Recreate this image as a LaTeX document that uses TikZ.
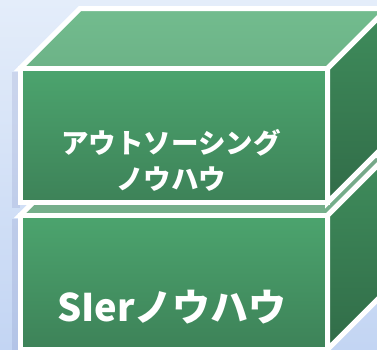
\documentclass[tikz,border=0pt]{standalone}
\usepackage{fontspec}
\newfontfamily\jp{Noto Sans CJK JP}
\definecolor{topface}{HTML}{72BC8E}
\definecolor{fronttop}{HTML}{4CA46E}
\definecolor{frontbot}{HTML}{3D8258}
\definecolor{sidetop}{HTML}{3F8D5C}
\definecolor{sidebot}{HTML}{316C48}
\definecolor{bgtop}{HTML}{E4EDFA}
\definecolor{bgbot}{HTML}{C3D5F3}
\tikzset{
  edge/.style={draw=white, line width=5pt, line join=miter},
  txt/.style={text=white, font=\jp, align=center, inner sep=0pt},
}
\begin{document}
\begin{tikzpicture}[x=1pt,y=-1pt]
\useasboundingbox (0,0) rectangle (377,349);
\shade[top color=bgtop, bottom color=bgbot] (0,0) rectangle (377,349);
% soft shadows at left
\fill[black!60!blue, opacity=0.08] (12,72) rectangle (20,208);
\fill[black!60!blue, opacity=0.08] (12,219) rectangle (20,352);
% bottom box
\path[edge, top color=topface!65!gray, bottom color=topface!80!gray] (20,215.5) -- (80,155.5) -- (387.5,155.5) -- (327.5,215.5) -- cycle;
\path[edge, top color=sidetop, bottom color=sidebot] (327.5,215.5) -- (387.5,155.5) -- (387.5,289.5) -- (327.5,349.5) -- cycle;
\path[edge, top color=fronttop, bottom color=frontbot] (20,215.5) rectangle (327.5,349.5);
% top box
\path[edge, top color=topface, bottom color=topface!95!black] (20,68.5) -- (80,8.5) -- (387.5,8.5) -- (327.5,68.5) -- cycle;
\path[edge, top color=sidetop, bottom color=sidebot] (327.5,68.5) -- (387.5,8.5) -- (387.5,142.5) -- (327.5,202.5) -- cycle;
\path[edge, top color=fronttop, bottom color=frontbot] (20,68.5) rectangle (327.5,202.5);
% texts
\node[txt, font=\jp\bfseries\fontsize{27.5}{36}\selectfont] (t1) at (171,160) {アウトソーシング\\ノウハウ};
\node[txt, font=\jp\bfseries\fontsize{38}{40}\selectfont] (t2) at (172,307) {SIerノウハウ};
\end{tikzpicture}
\end{document}
